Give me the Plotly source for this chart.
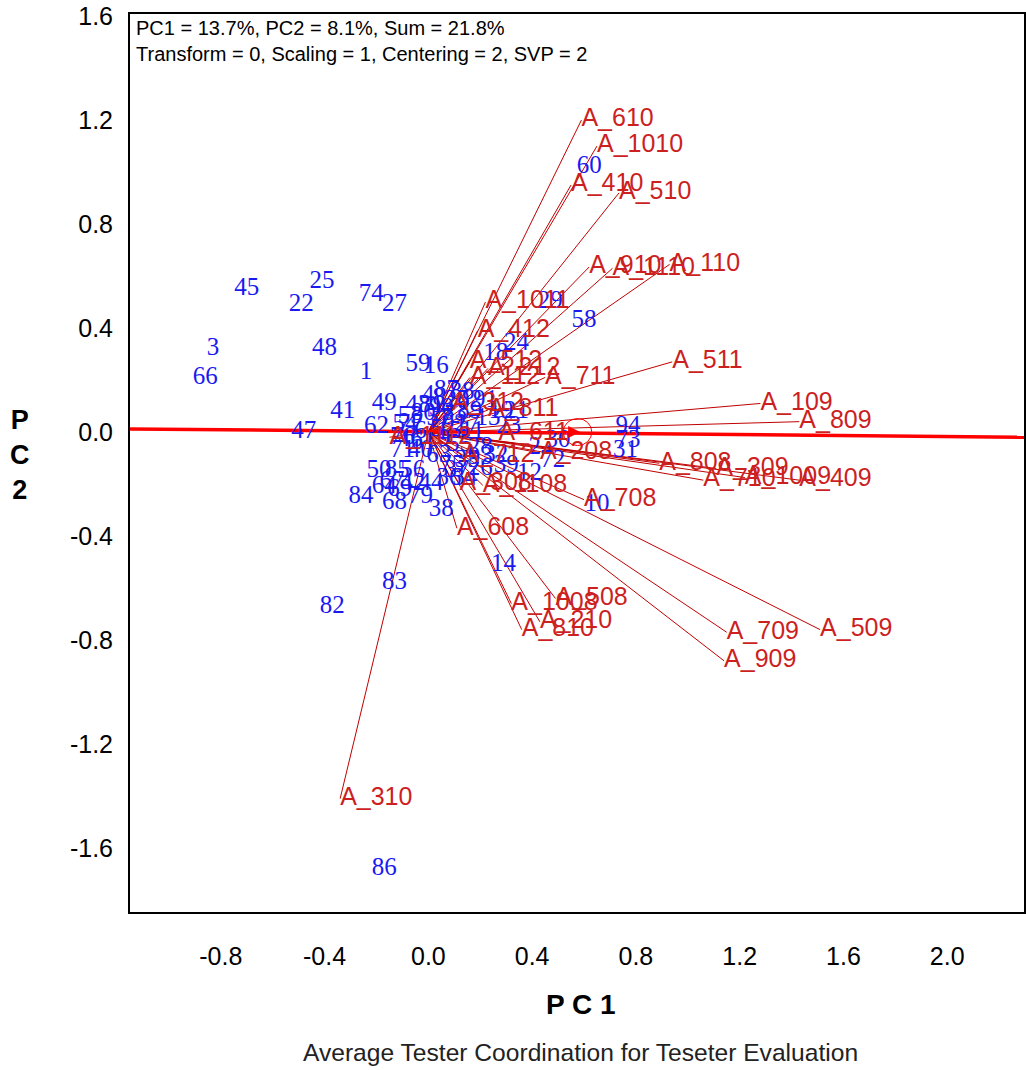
import plotly.graph_objects as go

# Genotype entries (blue labels)
gen_labels = ["1","3","22","25","27","45","48","66","74","41","49","62","47","59","16","18","24","29","58","60",
              "94","73","31","30","72","10","14","83","82","86","84","68","79","38","44","50","85","56","64","69",
              "42","43","53","8","90","20","52","33","57","17","13","19","21","23","71","40","46","63","75","35",
              "26","39","12","2","9","55","5","6","11","28","32","34","36","37","67","76","77","80","81","87",
              "88","89","91","92","93","54","61","4","7","15"]
gen_pc1 = [-0.24,-0.83,-0.49,-0.41,-0.13,-0.70,-0.40,-0.86,-0.22,-0.33,-0.17,-0.20,-0.48,-0.04,0.03,0.26,0.34,0.47,0.60,0.62,
           0.77,0.77,0.76,0.50,0.48,0.65,0.29,-0.13,-0.37,-0.17,-0.26,-0.13,-0.03,0.05,0.01,-0.19,-0.12,-0.06,-0.17,-0.11,
           -0.06,-0.04,-0.07,0.04,0.05,0.11,0.16,0.10,0.04,0.15,0.23,0.28,0.34,0.31,-0.10,-0.03,-0.07,0.04,0.09,0.15,
           0.20,0.30,0.39,0.41,0.06,0.12,0.03,-0.03,0.17,0.20,0.26,0.14,0.08,0.11,-0.14,-0.10,-0.07,-0.02,0.01,0.07,
           0.13,0.16,0.22,0.10,0.20,-0.09,-0.02,0.00,0.07,0.08]
gen_pc2 = [0.23,0.32,0.49,0.58,0.49,0.55,0.32,0.21,0.53,0.08,0.11,0.02,0.00,0.26,0.25,0.30,0.34,0.50,0.43,1.02,
           0.02,-0.035,-0.07,-0.035,-0.11,-0.28,-0.51,-0.58,-0.67,-1.68,-0.25,-0.27,-0.25,-0.30,-0.20,-0.15,-0.15,-0.15,-0.21,-0.22,
           -0.20,0.10,0.06,0.13,0.09,0.12,0.12,0.07,0.05,0.03,0.05,0.08,0.08,0.02,-0.07,-0.07,-0.03,-0.09,-0.13,-0.11,
           -0.14,-0.13,-0.16,-0.06,-0.03,-0.05,0.01,0.00,0.00,-0.06,-0.09,-0.18,-0.18,-0.15,-0.19,-0.02,0.03,0.07,0.10,0.16,
           0.15,0.08,0.12,0.03,-0.10,0.03,-0.04,0.14,0.05,0.00]

# Tester entries (red vectors)
tester_labels = ["A_610","A_1010","A_410","A_510","A_910","A_1110","A_110","A_1011","A_412","A_512",
                 "A_212","A_112","A_711","A_511","A_109","A_809","A_811","A_312","A_611","A_208",
                 "A_808","A_309","A_710","A_1009","A_409","A_708","A_308","A_1108","A_608","A_508",
                 "A_1008","A_210","A_810","A_709","A_509","A_909","A_310","A_1112","A_712"]
tester_pc1 = [0.59,0.65,0.55,0.735,0.62,0.71,0.93,0.22,0.19,0.16,
              0.23,0.16,0.45,0.94,1.28,1.43,0.23,0.09,0.27,0.43,
              0.89,1.11,1.06,1.22,1.43,0.60,0.12,0.21,0.11,0.49,
              0.32,0.43,0.36,1.15,1.51,1.14,-0.34,-0.15,0.13]
tester_pc2 = [1.20,1.10,0.95,0.92,0.635,0.63,0.645,0.50,0.39,0.27,
              0.245,0.21,0.21,0.27,0.11,0.04,0.085,0.11,-0.005,-0.08,
              -0.12,-0.14,-0.185,-0.175,-0.185,-0.26,-0.20,-0.205,-0.37,-0.64,
              -0.66,-0.73,-0.76,-0.77,-0.76,-0.88,-1.41,-0.02,-0.09]

# Average tester coordinate axis
atc_x = [-1.15, 2.30]
atc_y = [0.012, -0.02]

x_ticks = [-0.8, -0.4, 0.0, 0.4, 0.8, 1.2, 1.6, 2.0]
y_ticks = [-1.6, -1.2, -0.8, -0.4, 0.0, 0.4, 0.8, 1.2, 1.6]

fig = go.Figure()

# tester vectors
lx, ly = [], []
for tx, ty in zip(tester_pc1, tester_pc2):
    lx += [0, tx, None]
    ly += [0, ty, None]
fig.add_trace(go.Scatter(x=lx, y=ly, mode="lines", line=dict(color="#C00000", width=1),
                         hoverinfo="skip", showlegend=False))

# ATC axis
fig.add_trace(go.Scatter(x=atc_x, y=atc_y, mode="lines", line=dict(color="#FF0000", width=3.5),
                         hoverinfo="skip", showlegend=False))

# genotypes
fig.add_trace(go.Scatter(x=gen_pc1, y=gen_pc2, mode="text", text=gen_labels,
                         textposition="middle center",
                         textfont=dict(family="Liberation Serif", size=25, color="#1a1aF0"),
                         showlegend=False))

# testers
fig.add_trace(go.Scatter(x=tester_pc1, y=tester_pc2, mode="text", text=tester_labels,
                         textposition="middle right",
                         textfont=dict(family="Liberation Sans", size=25, color="#CC1F1F"),
                         showlegend=False))

# arrow and circle on ATC
fig.add_annotation(x=0.585, y=0.0, ax=0.35, ay=0.0, xref="x", yref="y", axref="x", ayref="y",
                   showarrow=True, arrowhead=2, arrowsize=1.2, arrowwidth=2, arrowcolor="#FF0000", text="")
fig.add_shape(type="circle", xref="x", yref="y", x0=0.52, x1=0.63, y0=-0.052, y1=0.052,
              line=dict(color="#FF0000", width=1))

# header text
fig.add_annotation(x=0.004, y=0.999, xref="paper", yref="paper", xanchor="left", yanchor="top",
                   showarrow=False, align="left",
                   text="PC1 = 13.7%, PC2 = 8.1%, Sum = 21.8%<br>Transform = 0, Scaling = 1, Centering = 2, SVP = 2",
                   font=dict(family="Liberation Sans", size=20, color="black"))

# axis titles
fig.add_annotation(x=-0.123, y=0.509, xref="paper", yref="paper", showarrow=False,
                   xanchor="center", yanchor="middle",
                   text="<b>P</b><br><b>C</b><br><b>2</b>",
                   font=dict(family="Liberation Sans", size=27, color="black"))
fig.add_annotation(x=0.504, y=-0.103, xref="paper", yref="paper", showarrow=False,
                   text="<b>P C 1</b>", xanchor="center", yanchor="middle",
                   font=dict(family="Liberation Sans", size=28, color="black"))
fig.add_annotation(x=0.504, y=-0.156, xref="paper", yref="paper", showarrow=False,
                   text="Average Tester Coordination for Teseter Evaluation",
                   xanchor="center", yanchor="middle",
                   font=dict(family="Liberation Sans", size=24.6, color="#222222"))

fig.update_xaxes(range=[-1.15, 2.296], tickvals=x_ticks, ticktext=[f"{v:.1f}" for v in x_ticks],
                 showgrid=False, zeroline=False, showline=True, linecolor="black", linewidth=2,
                 mirror=True, ticks="", ticklabelstandoff=21,
                 tickfont=dict(family="Liberation Sans", size=25, color="black"))
fig.update_yaxes(range=[-1.846, 1.608], tickvals=y_ticks, ticktext=[f"{v:.1f}" for v in y_ticks],
                 showgrid=False, zeroline=False, showline=True, linecolor="black", linewidth=2,
                 mirror=True, ticks="", ticklabelstandoff=10,
                 tickfont=dict(family="Liberation Sans", size=25, color="black"))

fig.update_layout(width=1026, height=1070, margin=dict(l=130, r=0, t=14, b=158),
                  plot_bgcolor="white", paper_bgcolor="white", showlegend=False)

fig.write_html("out.html")
